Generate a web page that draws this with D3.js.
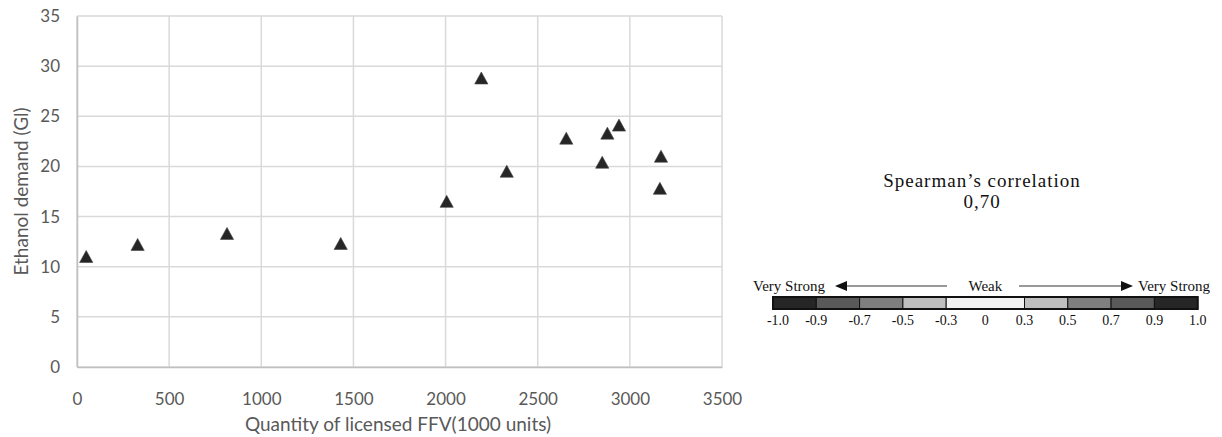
<!DOCTYPE html>
<html>
<head>
<meta charset="utf-8">
<script src="https://cdn.jsdelivr.net/npm/d3@7"></script>
<style>
  body { margin: 0; background: #fff; }
</style>
</head>
<body>
<div class="canvas"></div>
<script>
// data
const ffvQty = [50, 329, 814, 1431, 2006, 2194, 2332, 2655, 2850, 2878, 2941, 3163, 3169]
const ethanolDemand = [11.0, 12.2, 13.3, 12.3, 16.5, 28.8, 19.5, 22.8, 20.4, 23.3, 24.1, 17.8, 21.0]
const xTicks = [0, 500, 1000, 1500, 2000, 2500, 3000, 3500]
const yTicks = [0, 5, 10, 15, 20, 25, 30, 35]

const corrLabel = "Spearman\u2019s correlation"
const corrValue = "0,70"
const legendBounds = [-1.0, -0.9, -0.7, -0.5, -0.3, 0.3, 0.5, 0.7, 0.9, 1.0]
const legendBoundLabels = ["-1.0", "-0.9", "-0.7", "-0.5", "-0.3", "0.3", "0.5", "0.7", "0.9", "1.0"]
const legendColors = ["#262626", "#595959", "#7f7f7f", "#bfbfbf", "#f2f2f2", "#bfbfbf", "#7f7f7f", "#595959", "#262626"]

/**
 * Dimension setup
 */
const W = 1222, H = 437
const plot = { left: 77, right: 722, top: 16, bottom: 367 }

const svg = d3.select(".canvas")
  .append("svg")
  .attr("width", W)
  .attr("height", H)

const x = d3.scaleLinear().domain([0, 3500]).range([plot.left, plot.right])
const y = d3.scaleLinear().domain([0, 35]).range([plot.bottom, plot.top])

const axisFont = "Lato, 'Open Sans', sans-serif"
const serif = "'Liberation Serif', 'Times New Roman', serif"

// gridlines
svg.append("g").selectAll("line.v")
  .data(xTicks)
  .join("line")
  .attr("x1", d => x(d)).attr("x2", d => x(d))
  .attr("y1", plot.top).attr("y2", plot.bottom)
  .attr("stroke", "#d9d9d9").attr("stroke-width", 1.5)

svg.append("g").selectAll("line.h")
  .data(yTicks)
  .join("line")
  .attr("x1", plot.left).attr("x2", plot.right)
  .attr("y1", d => y(d)).attr("y2", d => y(d))
  .attr("stroke", "#d9d9d9").attr("stroke-width", 1.5)

// axes: only labels, the lines come from the grid
const xAxis = svg.append("g")
  .attr("transform", `translate(0,${plot.bottom})`)
  .call(d3.axisBottom(x).tickValues(xTicks).tickFormat(d3.format("d")).tickSize(0).tickPadding(26))
xAxis.select(".domain").attr("stroke", "#bfbfbf").attr("stroke-width", 1.5)

const yAxis = svg.append("g")
  .attr("transform", `translate(${plot.left},0)`)
  .call(d3.axisLeft(y).tickValues(yTicks).tickFormat(d3.format("d")).tickSize(0).tickPadding(17))
yAxis.select(".domain").attr("stroke", "#bfbfbf").attr("stroke-width", 1.5)

svg.selectAll(".tick text")
  .attr("font-family", axisFont)
  .attr("font-size", 17)
  .attr("fill", "#595959")

// axis titles
svg.append("text")
  .attr("x", 398)
  .attr("y", 431)
  .attr("text-anchor", "middle")
  .attr("font-family", axisFont)
  .attr("font-size", 19)
  .attr("fill", "#595959")
  .text("Quantity of licensed FFV(1000 units)")

svg.append("text")
  .attr("transform", `translate(28,${(plot.top + plot.bottom) / 2}) rotate(-90)`)
  .attr("text-anchor", "middle")
  .attr("font-family", axisFont)
  .attr("font-size", 19)
  .attr("fill", "#595959")
  .text("Ethanol demand (Gl)")

// triangle markers, centred on their bounding box like Excel does
const tri = "M0,-6.2L6.6,5.8L-6.6,5.8Z"
svg.append("g").selectAll("path")
  .data(ffvQty.map((v, i) => ({ x: v, y: ethanolDemand[i] })))
  .join("path")
  .attr("d", tri)
  .attr("transform", d => `translate(${x(d.x)},${y(d.y)})`)
  .attr("fill", "#262626")
  .attr("stroke", "#404040")
  .attr("stroke-width", 0.6)

/**
 * Correlation legend
 */
svg.append("text")
  .attr("x", 982).attr("y", 187)
  .attr("text-anchor", "middle")
  .attr("font-family", serif).attr("font-size", 19)
  .attr("letter-spacing", 1)
  .attr("fill", "#111")
  .text(corrLabel)

svg.append("text")
  .attr("x", 982).attr("y", 208)
  .attr("text-anchor", "middle")
  .attr("font-family", serif).attr("font-size", 19)
  .attr("letter-spacing", 1)
  .attr("fill", "#111")
  .text(corrValue)

// piecewise scale so the weak band is wider than the others
const segW = 43.3, midW = 78.3, barLeft = 773
const barStops = [0, 1, 2, 3, 4, 4, 5, 6, 7, 8].map((k, i) => barLeft + k * segW + (i >= 5 ? midW : 0))
const lx = d3.scaleLinear().domain(legendBounds).range(barStops)
const barTop = 297, barH = 12

const segs = d3.pairs(legendBounds).map((p, i) => ({ a: p[0], b: p[1], color: legendColors[i] }))
svg.append("g").selectAll("rect")
  .data(segs)
  .join("rect")
  .attr("x", d => lx(d.a)).attr("y", barTop)
  .attr("width", d => lx(d.b) - lx(d.a)).attr("height", barH)
  .attr("fill", d => d.color)
  .attr("stroke", "#111").attr("stroke-width", 1)

svg.append("rect")
  .attr("x", lx(-1)).attr("y", barTop)
  .attr("width", lx(1) - lx(-1)).attr("height", barH)
  .attr("fill", "none")
  .attr("stroke", "#111").attr("stroke-width", 2)

// bound labels; "0" sits in the middle of the weak band
const labels = legendBoundLabels.map((t, i) => ({ t, v: legendBounds[i] }))
labels.splice(5, 0, { t: "0", v: 0 })
svg.append("g").selectAll("text")
  .data(labels)
  .join("text")
  .attr("x", d => d.v === -1 ? lx(d.v) + 5 : lx(d.v))
  .attr("y", 325)
  .attr("text-anchor", "middle")
  .attr("font-family", serif).attr("font-size", 14)
  .attr("fill", "#111")
  .text(d => d.t)

// strength arrows
const arrowY = 286
svg.append("text")
  .attr("x", 753).attr("y", arrowY + 5)
  .attr("font-family", serif).attr("font-size", 15).attr("fill", "#111")
  .text("Very Strong")
svg.append("text")
  .attr("x", 1138).attr("y", arrowY + 5)
  .attr("font-family", serif).attr("font-size", 15).attr("fill", "#111")
  .text("Very Strong")
svg.append("text")
  .attr("x", lx(0)).attr("y", arrowY + 5)
  .attr("text-anchor", "middle")
  .attr("font-family", serif).attr("font-size", 15).attr("fill", "#111")
  .text("Weak")

svg.append("line")
  .attr("x1", 947).attr("x2", 845).attr("y1", arrowY).attr("y2", arrowY)
  .attr("stroke", "#333").attr("stroke-width", 1)
svg.append("path")
  .attr("d", `M835,${arrowY}L847,${arrowY - 5}L847,${arrowY + 5}Z`)
  .attr("fill", "#111")

svg.append("line")
  .attr("x1", 1019).attr("x2", 1122).attr("y1", arrowY).attr("y2", arrowY)
  .attr("stroke", "#333").attr("stroke-width", 1)
svg.append("path")
  .attr("d", `M1133,${arrowY}L1121,${arrowY - 5}L1121,${arrowY + 5}Z`)
  .attr("fill", "#111")
</script>
</body>
</html>
